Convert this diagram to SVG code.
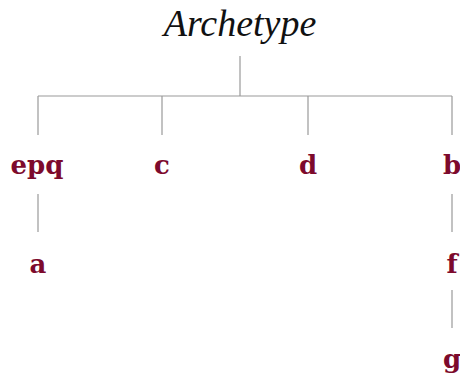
<svg xmlns="http://www.w3.org/2000/svg" width="460" height="377" viewBox="0 0 460 377">
<style>
.root{font-family:"Liberation Serif",serif;font-style:italic;font-size:38px;fill:#111;text-anchor:middle}
.lbl{font-family:"DejaVu Serif",serif;font-weight:bold;font-size:26px;fill:#7d0a2c;text-anchor:middle}
.edge{stroke:#9a9a9a;stroke-width:1.2;fill:none}
</style>
<rect width="460" height="377" fill="#fff"/>
<g id="connectors">
<path class="edge" d="M240 56V96M38 96H452M38 96V135M162 96V135M308 96V135M452 96V135M38 194V232M452 194V232M452 290V328"/>
</g>
<g id="archetype"><text class="root" x="240" y="36">Archetype</text></g>
<g id="epq"><text class="lbl" x="37" y="174">epq</text></g>
<g id="c"><text class="lbl" x="162" y="174">c</text></g>
<g id="d"><text class="lbl" x="308" y="174">d</text></g>
<g id="b"><text class="lbl" x="452" y="174">b</text></g>
<g id="a"><text class="lbl" x="38" y="273">a</text></g>
<g id="f"><text class="lbl" x="452" y="273">f</text></g>
<g id="g"><text class="lbl" x="452" y="368">g</text></g>
</svg>
